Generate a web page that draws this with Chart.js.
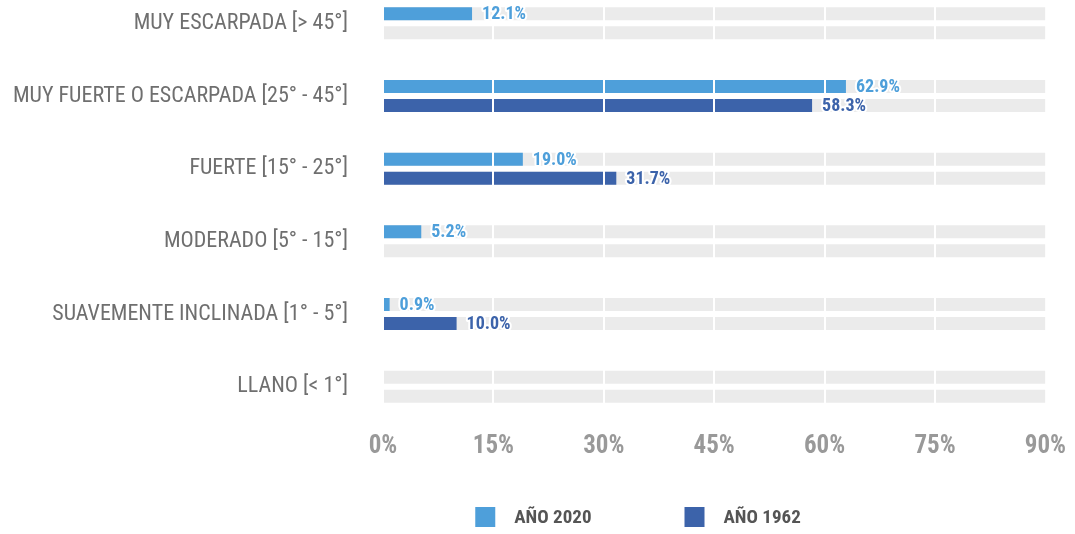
<!DOCTYPE html>
<html lang="es">
<head>
<meta charset="utf-8">
<title>Pendientes del terreno: 1962 y 2020</title>
<script src="https://cdn.jsdelivr.net/npm/chart.js@4.4.1/dist/chart.umd.min.js"></script>
<style>
  html, body { margin: 0; padding: 0; background: #ffffff; overflow: hidden; }
  #wrap { position: absolute; left: 0; top: -13px; width: 1075px; height: 547px; }
</style>
</head>
<body>
<div id="wrap"><canvas id="chart"></canvas></div>
<script>
// Slope classes (rows, top to bottom)
const categories = [
  'MUY ESCARPADA [> 45°]',
  'MUY FUERTE O ESCARPADA [25° - 45°]',
  'FUERTE [15° - 25°]',
  'MODERADO [5° - 15°]',
  'SUAVEMENTE INCLINADA [1° - 5°]',
  'LLANO [< 1°]'
];
// Share of surface per class, in percent (null = no value)
const year2020 = [12.1, 62.9, 19.0, 5.2, 0.9, null];
const year1962 = [null, 58.3, 31.7, null, 10.0, null];
const seriesNames = ['AÑO 2020', 'AÑO 1962'];
// Axis ticks
const axisMax = 90;
const axisStep = 15;

const NARROW = '"Roboto Condensed", "Open Sans Condensed", "DejaVu Sans Condensed", sans-serif';
const C2020 = '#4e9fda';
const C1962 = '#3c63aa';
const TRACK = '#ebebeb';

// Grey full-length track behind each bar
const trackValues = categories.map(() => axisMax);

// Value labels at the end of each bar, with a white halo (drawn last, above the grid)
const valueLabels = {
  id: 'valueLabels',
  afterDraw(chart) {
    const ctx = chart.ctx;
    ctx.save();
    ctx.font = 'bold 18px ' + NARROW;
    ctx.textAlign = 'left';
    ctx.textBaseline = 'middle';
    ctx.lineJoin = 'round';
    chart.data.datasets.forEach((ds, i) => {
      if (ds.isTrack) return;
      const meta = chart.getDatasetMeta(i);
      meta.data.forEach((bar, j) => {
        const v = ds.data[j];
        if (v === null || v === undefined) return;
        const txt = v.toFixed(1) + '%';
        const x = bar.x + 10;
        const y = bar.y + 1;
        ctx.strokeStyle = '#ffffff';
        ctx.lineWidth = 4;
        ctx.strokeText(txt, x, y);
        ctx.fillStyle = ds.backgroundColor;
        ctx.fillText(txt, x, y);
      });
    });
    ctx.restore();
  }
};

// Legend row under the axis
const bottomLegend = {
  id: 'bottomLegend',
  afterDraw(chart) {
    const ctx = chart.ctx;
    const items = chart.data.datasets.filter(d => !d.isTrack);
    ctx.save();
    ctx.font = 'bold 19px ' + NARROW;
    ctx.textBaseline = 'middle';
    ctx.textAlign = 'left';
    const box = 20, gapText = 19, gapItem = 93;
    const widths = items.map(d => box + gapText + ctx.measureText(d.label).width);
    const total = widths.reduce((a, b) => a + b, 0) + gapItem * (items.length - 1);
    let x = 638 - total / 2;
    const cy = chart.height - 17;
    items.forEach((d, i) => {
      ctx.fillStyle = d.backgroundColor;
      ctx.fillRect(x, cy - box / 2, box, box);
      ctx.fillStyle = '#555555';
      ctx.fillText(d.label, x + box + gapText, cy + 1);
      x += widths[i] + gapItem;
    });
    ctx.restore();
  }
};

new Chart(document.getElementById('chart'), {
  type: 'bar',
  data: {
    labels: categories,
    datasets: [
      { label: seriesNames[0], data: year2020, backgroundColor: C2020, stack: 's2020', order: 1 },
      { label: seriesNames[1], data: year1962, backgroundColor: C1962, stack: 's1962', order: 1 },
      { label: 'track2020', data: trackValues, backgroundColor: TRACK, stack: 's2020', order: 2, isTrack: true },
      { label: 'track1962', data: trackValues, backgroundColor: TRACK, stack: 's1962', order: 2, isTrack: true }
    ]
  },
  options: {
    indexAxis: 'y',
    responsive: true,
    maintainAspectRatio: false,
    devicePixelRatio: 1,
    animation: false,
    categoryPercentage: 0.523,
    barPercentage: 0.684,
    layout: { padding: { left: 0, right: 29, top: 0, bottom: 71 } },
    plugins: {
      legend: { display: false },
      tooltip: { enabled: false }
    },
    scales: {
      x: {
        stacked: false,
        min: 0,
        max: axisMax,
        afterFit(scale) { scale.height = 40; },
        border: { display: false },
        grid: {
          z: 1,
          drawTicks: false,
          lineWidth: 2,
          color: (c) => (c.tick && (c.tick.value === 0 || c.tick.value === axisMax)) ? 'rgba(0,0,0,0)' : '#ffffff'
        },
        ticks: {
          stepSize: axisStep,
          padding: 9,
          color: '#999999',
          font: { family: NARROW, size: 25, weight: 'bold' },
          callback: (v) => v + '%'
        }
      },
      y: {
        stacked: true,
        afterFit(scale) {
          scale.width = 383;
          scale.paddingTop = 0;
          scale.paddingBottom = 0;
        },
        border: { display: false },
        grid: { display: false, drawTicks: false },
        ticks: {
          padding: 35,
          color: '#6f6f6f',
          font: { family: NARROW, size: 22 }
        }
      }
    }
  },
  plugins: [valueLabels, bottomLegend]
});
</script>
</body>
</html>
